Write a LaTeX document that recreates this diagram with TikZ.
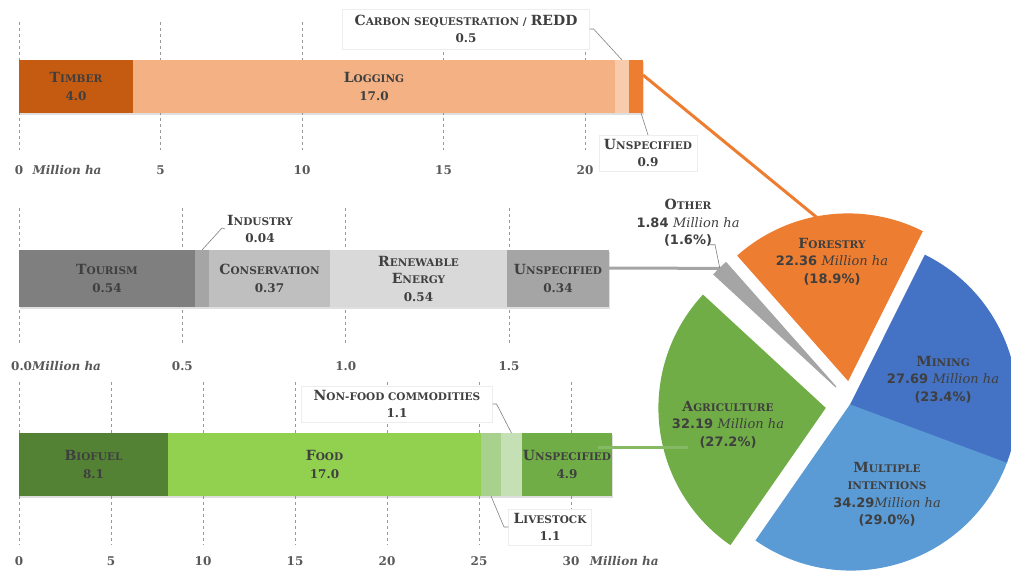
\documentclass[tikz,border=0pt]{standalone}
\usepackage{fontspec}
\setmainfont{DejaVu Serif}
\newfontfamily\piesans{DejaVu Sans}
\usetikzlibrary{positioning,shadows}
\definecolor{txt}{HTML}{3F3F3F}
\definecolor{axtxt}{HTML}{595959}
\definecolor{timbercol}{HTML}{C55A11}
\definecolor{loggingcol}{HTML}{F4B183}
\definecolor{carboncol}{HTML}{F8CBAD}
\definecolor{forestcol}{HTML}{ED7D31}
\definecolor{tourcol}{HTML}{7F7F7F}
\definecolor{indcol}{HTML}{A5A5A5}
\definecolor{conscol}{HTML}{BFBFBF}
\definecolor{renewcol}{HTML}{D9D9D9}
\definecolor{othercol}{HTML}{A5A5A5}
\definecolor{biofcol}{HTML}{548235}
\definecolor{foodcol}{HTML}{92D050}
\definecolor{livecol}{HTML}{A9D18E}
\definecolor{nonfcol}{HTML}{C5E0B4}
\definecolor{agricol}{HTML}{70AD47}
\definecolor{minecol}{HTML}{4472C4}
\definecolor{multicol}{HTML}{5B9BD5}
\newcommand\smc[2]{{\fontsize{14}{17.5}\selectfont #1}{\fontsize{10.5}{17.5}\selectfont #2}}
\newcommand\pmha{{\mdseries\itshape Million ha}}
\begin{document}
\begin{tikzpicture}[x=1pt,y=1pt,
	seg/.style={anchor=north west,inner sep=0pt,outer sep=0pt,text=txt,align=center,
		font=\bfseries\fontsize{12}{17.5}\selectfont,
		drop shadow={shadow xshift=.5pt,shadow yshift=-2pt,opacity=.25}},
	lbox/.style={fill=white,draw=black!7,inner xsep=5pt,inner ysep=4pt,text=txt,align=center,
		font=\bfseries\fontsize{12}{17.5}\selectfont},
	pielbl/.style={text=txt,align=center,font=\bfseries\fontsize{13}{17.5}\selectfont},
	axl/.style={text=axtxt,inner sep=1pt,font=\bfseries\fontsize{12}{14}\selectfont},
	grid/.style={black!40,line width=.6pt,dash pattern=on 3pt off 3pt},
	lead/.style={black!50,line width=.6pt},
	link/.style={line width=3pt},
	slice/.style={draw=white,line width=1.2pt}]
	\useasboundingbox (0,0) rectangle (1011,-572);
	\clip (0,0) rectangle (1011,-572);
	\def\R{166}
	% grid lines
	\foreach \v in {0,5,...,20} \draw[grid] ({19+\v*28.3},-22) -- ++(0,-128);
	\foreach \v in {0,0.5,1,1.5} \draw[grid] ({19+\v*326.7},-208) -- ++(0,-137);
	\foreach \v in {0,5,...,30} \draw[grid] ({19+\v*18.4},-382) -- ++(0,-163);
	% label boxes
	\node[lbox,inner xsep=12pt,inner ysep=6pt] (carbL) at (466,-29) {\smc{C}{ARBON SEQUESTRATION /} \smc{REDD}{}\\0.5};
	\node[lbox] (uLA) at (648,-153) {\smc{U}{NSPECIFIED}\\0.9};
	\node[lbox,draw=none,inner xsep=2pt] (indL) at (260,-229) {\smc{I}{NDUSTRY}\\0.04};
	\node[lbox,inner xsep=12pt] (nfL) at (397,-404) {\smc{N}{ON-FOOD COMMODITIES}\\1.1};
	\node[lbox] (livL) at (550,-527) {\smc{L}{IVESTOCK}\\1.1};
	\node[lbox,draw=none,fill=none,inner sep=2pt,font=\bfseries\fontsize{13}{17.5}\selectfont] (othL) at (688,-223) {\smc{O}{THER}\\{\piesans 1.84} \pmha\\{\piesans (1.6\%)}};
	% forestry bar
	\node[seg,fill=timbercol,minimum width=114pt,minimum height=53pt] (timber) at (19,-60) {\smc{T}{IMBER}\\4.0};
	\node[seg,fill=loggingcol,minimum width=482pt,minimum height=53pt,right=0pt of timber] (logging) {\smc{L}{OGGING}\\17.0};
	\node[seg,fill=carboncol,minimum width=14pt,minimum height=53pt,right=0pt of logging] (carbon) {};
	\node[seg,fill=forestcol,minimum width=14pt,minimum height=53pt,right=0pt of carbon] (unspA) {};
	% other bar
	\node[seg,fill=tourcol,minimum width=176pt,minimum height=57pt] (tourism) at (19,-250) {\smc{T}{OURISM}\\0.54};
	\node[seg,fill=indcol,minimum width=14pt,minimum height=57pt,right=0pt of tourism] (industry) {};
	\node[seg,fill=conscol,minimum width=121pt,minimum height=57pt,right=0pt of industry] (conserv) {\smc{C}{ONSERVATION}\\0.37};
	\node[seg,fill=renewcol,minimum width=177pt,minimum height=57pt,right=0pt of conserv] (renew) {\smc{R}{ENEWABLE}\\\smc{E}{NERGY}\\0.54};
	\node[seg,fill=indcol,minimum width=102pt,minimum height=57pt,right=0pt of renew] (unspB) {\smc{U}{NSPECIFIED}\\0.34};
	% agriculture bar
	\node[seg,fill=biofcol,minimum width=149pt,minimum height=63pt] (biofuel) at (19,-433) {\smc{B}{IOFUEL}\\8.1};
	\node[seg,fill=foodcol,minimum width=313pt,minimum height=63pt,right=0pt of biofuel] (food) {\smc{F}{OOD}\\17.0};
	\node[seg,fill=livecol,minimum width=20pt,minimum height=63pt,right=0pt of food] (livestock) {};
	\node[seg,fill=nonfcol,minimum width=21pt,minimum height=63pt,right=0pt of livestock] (nonfood) {};
	\node[seg,fill=agricol,minimum width=90pt,minimum height=63pt,right=0pt of nonfood] (unspC) {\smc{U}{NSPECIFIED}\\4.9};
	% axes
	\node[axl] (ta0) at (19,-170) {0};
	\node[axl,right=7pt of ta0] (tam) {\textit{Million ha}};
	\foreach \v in {5,10,15,20} \node[axl] (ta\v) at ({19+\v*28.3},-170) {\v};
	\node[axl,anchor=west] (ma0) at (10,-366) {0.0\textit{Million ha}};
	\foreach \v/\n in {0.5/a,1.0/b,1.5/c} \node[axl] (ma\n) at ({19+\v*326.7},-366) {\v};
	\foreach \v in {0,5,...,30} \node[axl] (ba\v) at ({19+\v*18.4},-561) {\v};
	\node[axl,right=8pt of ba30] (bam) {\textit{Million ha}};
	% pie
	\coordinate (forV) at (848,-380);
	\coordinate (othV) at (836,-387);
	\coordinate (agV) at (825,-408);
	\coordinate (minV) at (851,-404);
	\fill[slice,forestcol] (forV) -- ++(63.5:\R) arc[start angle=63.5,end angle=131.5,radius=\R] -- cycle;
	\fill[slice,othercol] (othV) -- ++(131.5:\R) arc[start angle=131.5,end angle=137.3,radius=\R] -- cycle;
	\fill[slice,agricol] (agV) -- ++(137.3:\R) arc[start angle=137.3,end angle=235.2,radius=\R] -- cycle;
	\fill[slice,multicol] (minV) -- ++(235.2:\R) arc[start angle=235.2,end angle=339.6,radius=\R] -- cycle;
	\fill[slice,minecol] (minV) -- ++(-20.4:\R) arc[start angle=-20.4,end angle=63.5,radius=\R] -- cycle;
	\path (forV) ++(101:\R) coordinate (forTip);
	\path (othV) ++(134.4:\R) coordinate (othTip);
	\coordinate (agTip) at (688,-447);
	% links and leaders
	\draw[link,forestcol] ([yshift=11.5pt]unspA.east) -- (forTip);
	\draw[link,othercol] ([yshift=10.5pt]unspB.east) -- (othTip);
	\draw[link,agricol!85!white] ([xshift=-14pt,yshift=17.5pt]unspC.east) -- (agTip);
	\draw[lead] (carbL.east) -- ++(4,0) -- (carbon.north);
	\draw[lead] ([xshift=5pt]unspA.south) -- (uLA.north);
	\draw[lead] (industry.north) -- ++(20,22) -- (indL.west);
	\draw[lead] (nfL.east) -- ++(4,0) -- (nonfood.north);
	\draw[lead] (livestock.south) -- ++(13,-31) -- (livL.west);
	\draw[lead] ([xshift=22pt,yshift=4pt]othL.south) -- ++(5,0) -- (othTip);
	% pie labels
	\node[pielbl] (forL) at (832,-261.5) {\smc{F}{ORESTRY}\\{\piesans 22.36} \pmha\\{\piesans (18.9\%)}};
	\node[pielbl] (minL) at (943,-379.5) {\smc{M}{INING}\\{\piesans 27.69} \pmha\\{\piesans (23.4\%)}};
	\node[pielbl] (mulL) at (887,-494) {\smc{M}{ULTIPLE}\\\smc{}{INTENTIONS}\\{\piesans 34.29}\pmha\\{\piesans (29.0\%)}};
	\node[pielbl] (agL) at (728,-424.5) {\smc{A}{GRICULTURE}\\{\piesans 32.19} \pmha\\{\piesans (27.2\%)}};
\end{tikzpicture}
\end{document}
